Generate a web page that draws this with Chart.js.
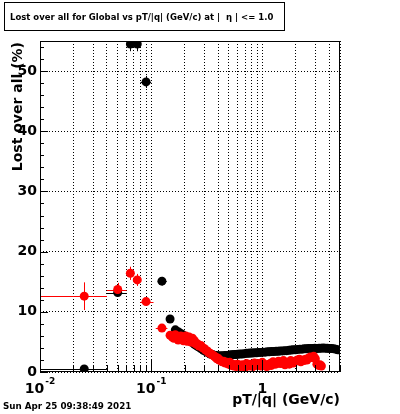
<!DOCTYPE html>
<html>
<head>
<meta charset="utf-8">
<script src="https://cdn.jsdelivr.net/npm/chart.js@4"></script>
<style>
  html, body { margin: 0; padding: 0; background: #fff; }
</style>
</head>
<body>
<canvas id="lostChart" width="400" height="414"></canvas>
<script>
// Lost over all (%) vs pT/|q| -- black and red series, log x axis
const xTicks = [0.01, 0.02, 0.03, 0.04, 0.05, 0.06, 0.07, 0.08, 0.09,
                0.1, 0.2, 0.3, 0.4, 0.5, 0.6, 0.7, 0.8, 0.9, 1, 2, 3, 4, 5];
const xLabels = [[0.01, '10', '-2'], [0.1, '10', '-1'], [1, '1', '']];
const yTicks = [0, 10, 20, 30, 40, 50];

const blackX = [0.025, 0.05, 0.065, 0.075, 0.09, 0.125, 0.148,
  0.165, 0.175, 0.185, 0.195, 0.205, 0.215, 0.225, 0.235, 0.245, 0.255, 0.265,
  0.28, 0.295, 0.31, 0.325, 0.34, 0.355, 0.37, 0.385, 0.40,
  0.42, 0.44, 0.46, 0.48, 0.50, 0.52, 0.54, 0.56, 0.58, 0.60,
  0.63, 0.66, 0.69, 0.72, 0.75, 0.78, 0.81,
  0.85, 0.89, 0.93, 0.97, 1.01,
  1.06, 1.11, 1.16, 1.21,
  1.27, 1.33, 1.39, 1.45,
  1.52, 1.59, 1.66, 1.74, 1.82, 1.90, 1.99,
  2.08, 2.18, 2.28, 2.38, 2.49, 2.6,
  2.72, 2.84, 2.97, 3.1, 3.24, 3.38, 3.53, 3.69, 3.85, 4.02, 4.2, 4.39, 4.58, 4.78];
const blackY = [0.5, 13.2, 54.5, 54.5, 48.2, 15.1, 8.8,
  7.0, 6.7, 6.4, 6.1, 5.8, 5.5, 5.2, 4.9, 4.6, 4.4, 4.2,
  3.9, 3.6, 3.4, 3.2, 3.0, 2.9, 2.8, 2.75, 2.7,
  2.7, 2.7, 2.75, 2.75, 2.8, 2.85, 2.85, 2.9, 2.9, 2.95,
  3.0, 3.0, 3.05, 3.1, 3.1, 3.15, 3.15,
  3.2, 3.2, 3.25, 3.25, 3.3,
  3.3, 3.35, 3.35, 3.4,
  3.4, 3.45, 3.45, 3.5,
  3.5, 3.55, 3.55, 3.6, 3.65, 3.7, 3.7,
  3.75, 3.8, 3.8, 3.85, 3.85, 3.9,
  3.9, 3.9, 3.95, 3.9, 3.95, 3.95, 4.0, 3.95, 3.95, 3.9, 3.9, 3.85, 3.8, 3.7];
// error bars, only for the first (wide bin) points
const blackXLo = [0.01, 0.04, 0.06, 0.07, 0.08, 0.115, 0.14];
const blackXHi = [0.04, 0.06, 0.07, 0.08, 0.1, 0.138, 0.155];
const blackYErr = [0.2, 0.6, 1.2, 1.2, 1.0, 0.7, 0.5];

const redX = [0.025, 0.05, 0.065, 0.075, 0.09, 0.125, 0.148,
  0.155, 0.16, 0.165, 0.17, 0.175, 0.18, 0.185, 0.19, 0.195, 0.20, 0.205,
  0.21, 0.215, 0.22, 0.225, 0.23, 0.235, 0.24, 0.245, 0.25, 0.255,
  0.26, 0.27, 0.28, 0.29, 0.30, 0.31, 0.32, 0.33, 0.34, 0.35, 0.36, 0.37, 0.38,
  0.39, 0.40, 0.41, 0.42,
  0.435, 0.45, 0.465, 0.48, 0.495, 0.51, 0.525, 0.54, 0.555, 0.57, 0.585, 0.60,
  0.62, 0.64, 0.66, 0.68, 0.70, 0.72, 0.74, 0.76, 0.78, 0.80,
  0.825, 0.85, 0.875, 0.90, 0.925, 0.95, 0.975, 1.0,
  1.03, 1.06, 1.09, 1.12, 1.15, 1.18, 1.21,
  1.25, 1.28, 1.32, 1.36, 1.40,
  1.45, 1.50, 1.55, 1.60, 1.65, 1.70, 1.75, 1.80, 1.85, 1.90, 1.95,
  2.0, 2.07, 2.15, 2.22, 2.3, 2.37, 2.45, 2.52, 2.6,
  2.7, 2.8, 2.9, 3.0, 3.1, 3.2, 3.3, 3.4];
const redY = [12.6, 13.7, 16.4, 15.3, 11.7, 7.3, 6.1,
  5.8, 5.6, 6.2, 5.9, 5.3, 5.5, 6.0, 5.7, 5.2, 5.5, 6.0,
  5.1, 5.4, 5.8, 5.0, 5.3, 5.6, 4.9, 5.2, 4.8, 4.6,
  4.7, 4.3, 4.4, 4.0, 3.9, 3.6, 3.5, 3.2, 3.1, 2.9, 2.8, 2.6, 2.5,
  2.2, 2.3, 2.0, 1.9,
  1.7, 1.8, 1.5, 1.6, 1.3, 1.6, 1.1, 1.3, 1.0, 1.2, 0.9, 1.3,
  1.0, 0.9, 1.2, 1.1, 0.8, 1.4, 1.1, 1.0, 1.3, 1.2,
  0.9, 1.5, 1.2, 1.1, 1.4, 1.3, 1.0, 1.6,
  1.3, 1.2, 0.9, 1.0, 1.3, 1.4, 1.1,
  1.7, 1.4, 1.3, 1.6, 1.8,
  1.4, 1.5, 1.9, 1.2, 1.5, 1.6, 1.3, 1.9, 1.7, 1.5, 1.8,
  1.8, 2.0, 2.1, 1.7, 2.0, 1.9, 2.1, 2.0, 2.3,
  2.5, 2.4, 2.6, 2.2, 1.3, 1.1, 1.2, 1.0];
const redXLo = [0.01, 0.04, 0.06, 0.07, 0.08, 0.11, 0.14];
const redXHi = [0.04, 0.06, 0.07, 0.08, 0.105, 0.14, 0.155];
const redYErr = [2.3, 1.1, 1.1, 1.0, 0.5, 0.4, 0.4];

const FONT = '"DejaVu Sans"';

function points(xs, ys) {
  return xs.map((x, i) => ({ x: x, y: ys[i] }));
}

function fitFont(ctx, text, size, maxW) {
  let s = size;
  ctx.font = `bold ${s}px ${FONT}`;
  while (ctx.measureText(text).width > maxW && s > 5) {
    s -= 0.25;
    ctx.font = `bold ${s}px ${FONT}`;
  }
}

const rootStyle = {
  id: 'rootStyle',
  beforeDraw(chart) {
    const ctx = chart.ctx;
    ctx.save();
    ctx.fillStyle = '#fff';
    ctx.fillRect(0, 0, chart.width, chart.height);
    ctx.restore();
  },
  beforeDatasetsDraw(chart) {
    const { ctx, chartArea: a } = chart;
    const xs = chart.scales.x, ys = chart.scales.y;
    ctx.save();
    ctx.beginPath();
    ctx.rect(a.left, a.top, a.right - a.left, a.bottom - a.top);
    ctx.clip();
    ctx.lineWidth = 1;
    chart.data.datasets.forEach(ds => {
      const e = ds.errors;
      if (!e) return;
      ctx.strokeStyle = ds.backgroundColor;
      e.xLo.forEach((lo, i) => {
        const p = ds.data[i];
        const py = Math.round(ys.getPixelForValue(p.y)) + 0.5;
        const px = Math.round(xs.getPixelForValue(p.x)) + 0.5;
        ctx.beginPath();
        ctx.moveTo(xs.getPixelForValue(lo), py);
        ctx.lineTo(xs.getPixelForValue(e.xHi[i]), py);
        ctx.moveTo(px, ys.getPixelForValue(p.y - e.yErr[i]));
        ctx.lineTo(px, ys.getPixelForValue(p.y + e.yErr[i]));
        ctx.stroke();
      });
    });
    ctx.restore();
  },
  afterDraw(chart) {
    const { ctx, chartArea: a } = chart;
    const xs = chart.scales.x, ys = chart.scales.y;
    ctx.save();
    ctx.strokeStyle = '#000';
    ctx.fillStyle = '#000';
    ctx.lineWidth = 1;

    // frame
    ctx.strokeRect(a.left + 0.5, a.top + 0.5, a.right - a.left - 1, a.bottom - a.top - 1);

    // tick marks inside the frame
    ctx.beginPath();
    for (let v = 0; v <= 55; v += 2) {
      const y = Math.round(ys.getPixelForValue(v)) + 0.5;
      const len = v % 10 === 0 ? 8 : 4;
      ctx.moveTo(a.left, y);
      ctx.lineTo(a.left + len, y);
    }
    xTicks.forEach(v => {
      const x = Math.round(xs.getPixelForValue(v)) + 0.5;
      const major = [0.01, 0.1, 1].includes(v);
      ctx.moveTo(x, a.bottom);
      ctx.lineTo(x, a.bottom - (major ? 12 : 7));
    });
    ctx.stroke();

    // x tick labels with superscripts
    ctx.textBaseline = 'alphabetic';
    ctx.textAlign = 'left';
    xLabels.forEach(([v, base, exp]) => {
      const px = xs.getPixelForValue(v);
      ctx.font = `bold 14px ${FONT}`;
      const w1 = ctx.measureText(base).width;
      ctx.font = `bold 9px ${FONT}`;
      const w2 = exp ? ctx.measureText(exp).width + 1 : 0;
      const x0 = px - (w1 + w2) / 2;
      ctx.font = `bold 14px ${FONT}`;
      ctx.fillText(base, x0, a.bottom + 21);
      if (exp) {
        ctx.font = `bold 9px ${FONT}`;
        ctx.fillText(exp, x0 + w1 + 1, a.bottom + 12);
      }
    });

    // axis titles
    ctx.font = `bold 14px ${FONT}`;
    ctx.textAlign = 'right';
    ctx.fillText('pT/|q| (GeV/c)', a.right, a.bottom + 32);
    ctx.save();
    ctx.translate(22, a.top + 1);
    ctx.rotate(-Math.PI / 2);
    ctx.textAlign = 'right';
    ctx.fillText('Lost over all (%)', 0, 0);
    ctx.restore();

    // title box
    ctx.fillStyle = '#fff';
    ctx.fillRect(4, 2, 280, 28);
    ctx.strokeRect(4.5, 2.5, 280, 28);
    ctx.fillStyle = '#000';
    const title = 'Lost over all for Global vs pT/|q| (GeV/c) at |  \u03b7 | <= 1.0';
    fitFont(ctx, title, 10, 268);
    ctx.textAlign = 'left';
    ctx.fillText(title, 10, 20);

    // date stamp
    const stamp = 'Sun Apr 25 09:38:49 2021';
    fitFont(ctx, stamp, 10, 132);
    ctx.fillText(stamp, 3, 409);
    ctx.restore();
  }
};

new Chart(document.getElementById('lostChart').getContext('2d'), {
  type: 'scatter',
  data: {
    datasets: [{
      label: 'red',
      data: points(redX, redY),
      errors: { xLo: redXLo, xHi: redXHi, yErr: redYErr },
      backgroundColor: '#ff0000',
      borderWidth: 0,
      pointRadius: 4.5
    }, {
      label: 'black',
      data: points(blackX, blackY),
      errors: { xLo: blackXLo, xHi: blackXHi, yErr: blackYErr },
      backgroundColor: '#000000',
      borderWidth: 0,
      pointRadius: 4.5
    }]
  },
  options: {
    responsive: false,
    animation: false,
    layout: { padding: { top: 41, right: 60, left: 0, bottom: 0 } },
    plugins: {
      legend: { display: false },
      tooltip: { enabled: false }
    },
    scales: {
      x: {
        type: 'logarithmic',
        min: 0.01,
        max: 5,
        afterBuildTicks: (scale) => { scale.ticks = xTicks.map(v => ({ value: v })); },
        afterFit: (scale) => { scale.height = 42; },
        ticks: { display: false },
        grid: { color: '#000', lineWidth: 1, drawTicks: false },
        border: { display: false, dash: [1, 2] }
      },
      y: {
        min: 0,
        max: 55,
        afterBuildTicks: (scale) => { scale.ticks = yTicks.map(v => ({ value: v })); },
        afterFit: (scale) => { scale.width = 40; },
        ticks: {
          color: '#000',
          padding: 3,
          font: { family: 'DejaVu Sans', weight: 'bold', size: 14 }
        },
        grid: { color: '#000', lineWidth: 1, drawTicks: false },
        border: { display: false, dash: [1, 2] }
      }
    }
  },
  plugins: [rootStyle]
});
</script>
</body>
</html>
